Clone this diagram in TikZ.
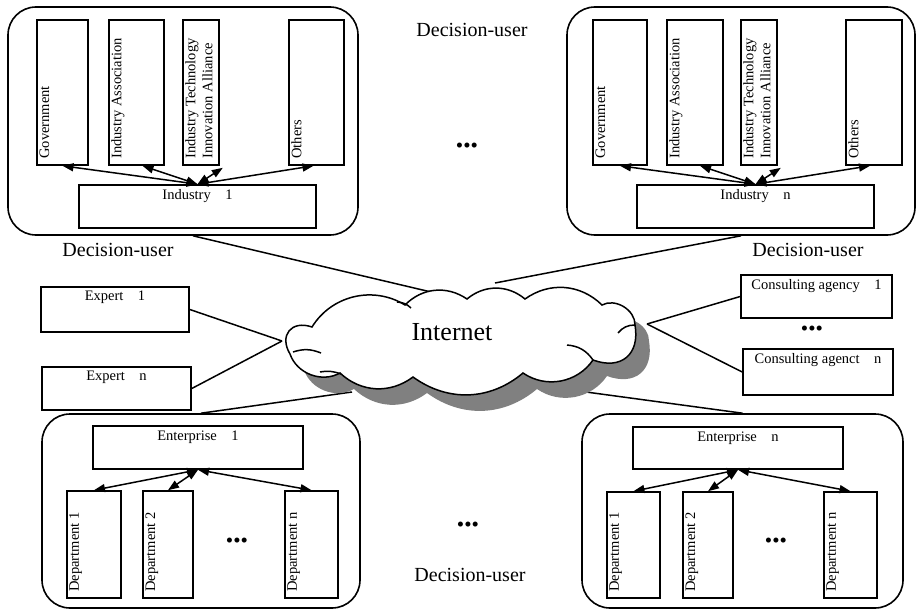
\documentclass[tikz,border=0pt]{standalone}
\usepackage{fontspec}
\setmainfont{Liberation Serif}
\usetikzlibrary{arrows.meta, fit}

\tikzset{
  group/.style={draw, line width=1.6pt, rounded corners=28pt, inner sep=0pt},
  box/.style={draw, line width=1.6pt, inner sep=0pt},
  lbl/.style={font=\fontsize{14.5}{17}\selectfont, anchor=north, inner xsep=3pt, inner ysep=5pt},
  vtext/.style={font=\fontsize{14.5}{17}\selectfont, rotate=90, anchor=north west,
    align=left, inner xsep=7pt, inner ysep=3pt},
  user/.style={font=\fontsize{20}{24}\selectfont},
  dots/.style={font=\fontsize{21}{24}\selectfont, inner sep=0pt},
  link/.style={line width=1.5pt},
  twoway/.style={line width=1.5pt,
    {Triangle[length=11pt,width=8pt]}-{Triangle[length=11pt,width=8pt]}},
  puffline/.style={line width=1.5pt},
}

% outline of the internet cloud, y pointing up
\def\cloudpath{(312,-327) to[bend left=45] (405,-305)
  to[bend left=40] (467,-299) to[bend left=40] (525,-299)
  to[bend left=40] (602,-305) to[bend left=60] (635,-325)
  to[bend left=60, looseness=1.4] (593,-360) to[bend left=45] (523,-373)
  to[bend left=38] (413,-377) to[bend left=40] (340,-373)
  to[bend left=50] (290,-354) to[bend left=70, looseness=1.6] cycle}

\begin{document}
\begin{tikzpicture}[x=1pt, y=-1pt]
  \useasboundingbox (0,0) rectangle (918,610);

  % industry 1
  \node[group, fit={(8,7) (358,235)}] (grpA) {};
  \node[box, fit={(37,20) (88,165)}, label={[vtext]south west:Government}] (govA) {};
  \node[box, fit={(109,20) (164,165)}, label={[vtext]south west:Industry Association}] (assA) {};
  \node[box, fit={(183,20) (219,165)},
    label={[vtext]south west:Industry Technology\\Innovation Alliance}] (allA) {};
  \node[box, fit={(289,20) (344,165)}, label={[vtext]south west:Others}] (othA) {};
  \node[box, fit={(79,185) (316,228)}, label={[lbl]north:Industry\quad 1}] (indA) {};
  \draw[twoway] (indA.north) -- (govA.south);
  \draw[twoway] (indA.north) -- ([xshift=6pt]assA.south);
  \draw[twoway] (indA.north) -- ([xshift=3pt,yshift=-2pt]allA.south east);
  \draw[twoway] (indA.north) -- ([xshift=-3pt]othA.south);

  % industry n
  \node[group, fit={(567,7) (915,235)}] (grpB) {};
  \node[box, fit={(593,20) (647,165)}, label={[vtext]south west:Government}] (govB) {};
  \node[box, fit={(667,20) (723,165)}, label={[vtext]south west:Industry Association}] (assB) {};
  \node[box, fit={(741,20) (777,165)},
    label={[vtext]south west:Industry Technology\\Innovation Alliance}] (allB) {};
  \node[box, fit={(846,20) (902,165)}, label={[vtext]south west:Others}] (othB) {};
  \node[box, fit={(637,185) (874,228)}, label={[lbl]north:Industry\quad n}] (indB) {};
  \draw[twoway] (indB.north) -- (govB.south);
  \draw[twoway] (indB.north) -- ([xshift=5pt]assB.south);
  \draw[twoway] (indB.north) -- ([xshift=3pt,yshift=-2pt]allB.south east);
  \draw[twoway] (indB.north) -- ([xshift=-4pt]othB.south);

  % enterprise 1
  \node[group, fit={(42,414) (360,608)}] (grpC) {};
  \node[box, fit={(93,426) (303,469)}, label={[lbl]north:Enterprise\quad 1}] (entC) {};
  \node[box, fit={(67,491) (121,598)}, label={[vtext]south west:Department 1}] (depC1) {};
  \node[box, fit={(143,491) (193,598)}, label={[vtext]south west:Department 2}] (depC2) {};
  \node[box, fit={(285,491) (338,598)}, label={[vtext]south west:Department n}] (depCn) {};
  \node[dots] (dotC) at (237,543) {•••};
  \draw[twoway] (entC.south) -- (depC1.north);
  \draw[twoway] (entC.south) -- (depC2.north);
  \draw[twoway] (entC.south) -- (depCn.north);

  % enterprise n
  \node[group, fit={(582,414) (903,608)}] (grpD) {};
  \node[box, fit={(633,427) (843,469)}, label={[lbl]north:Enterprise\quad n}] (entD) {};
  \node[box, fit={(607,492) (660,598)}, label={[vtext]south west:Department 1}] (depD1) {};
  \node[box, fit={(683,492) (733,598)}, label={[vtext]south west:Department 2}] (depD2) {};
  \node[box, fit={(824,492) (877,598)}, label={[vtext]south west:Department n}] (depDn) {};
  \node[dots] (dotD) at (776,543) {•••};
  \draw[twoway] (entD.south) -- (depD1.north);
  \draw[twoway] (entD.south) -- (depD2.north);
  \draw[twoway] (entD.south) -- (depDn.north);

  % experts and consulting agencies
  \node[box, fit={(41,287) (189,332)}, label={[lbl]north:Expert\quad 1}] (expA) {};
  \node[box, fit={(42,367) (191,410)}, label={[lbl]north:Expert\quad n}] (expB) {};
  \node[box, fit={(741,275) (892,318)}, label={[lbl]north:Consulting agency\quad 1}] (conA) {};
  \node[box, fit={(743,349) (893,395)}, label={[lbl]north:Consulting agenct\quad n}] (conB) {};
  \node[dots] (dotCon) at (812,331) {•••};

  \node[user] (usrT) at (472,30) {Decision-user};
  \node[user] (usrL) at (118,250) {Decision-user};
  \node[user] (usrR) at (808,250) {Decision-user};
  \node[user] (usrB) at (470,575) {Decision-user};
  \node[dots] (dotT) at (467,148) {•••};
  \node[dots] (dotB) at (468,527) {•••};

  % links to the internet
  \coordinate (netW) at (282,341);
  \coordinate (netE) at (647,324);
  \coordinate (netN) at (465,300);
  \coordinate (gap) at (495,283);
  \coordinate (netSW) at (352,392);
  \coordinate (netSE) at (586,392);
  \draw[link] ([xshift=10pt]grpA.south) -- (netN);
  \draw[link] (grpB.south) -- (gap);
  \draw[link] (expA.east) -- (netW);
  \draw[link] (expB.east) -- (netW);
  \draw[link] (conA.west) -- (netE);
  \draw[link] (conB.west) -- (netE);
  \draw[link] (grpC.north) -- (netSW);
  \draw[link] (grpD.north) -- (netSE);

  % the cloud itself, with its shadow
  \begin{scope}[y=1pt]
    \fill[black!50, shift={(14,-16)}] \cloudpath;
    \draw[puffline, fill=white] \cloudpath;
    \draw[puffline] (293,-352) to[bend left=20] (321,-353);
    \draw[puffline] (320,-372) to[bend left=15] (341,-374);
    \draw[puffline] (397,-302) to[bend left=20] (411,-308);
    \draw[puffline] (567,-345) to[bend left=25] (593,-360);
    \draw[puffline] (618,-333) to[bend left=25] (635,-325);
    \node[font=\fontsize{26}{30}\selectfont] (net) at (452,-332) {Internet};
  \end{scope}
\end{tikzpicture}
\end{document}
